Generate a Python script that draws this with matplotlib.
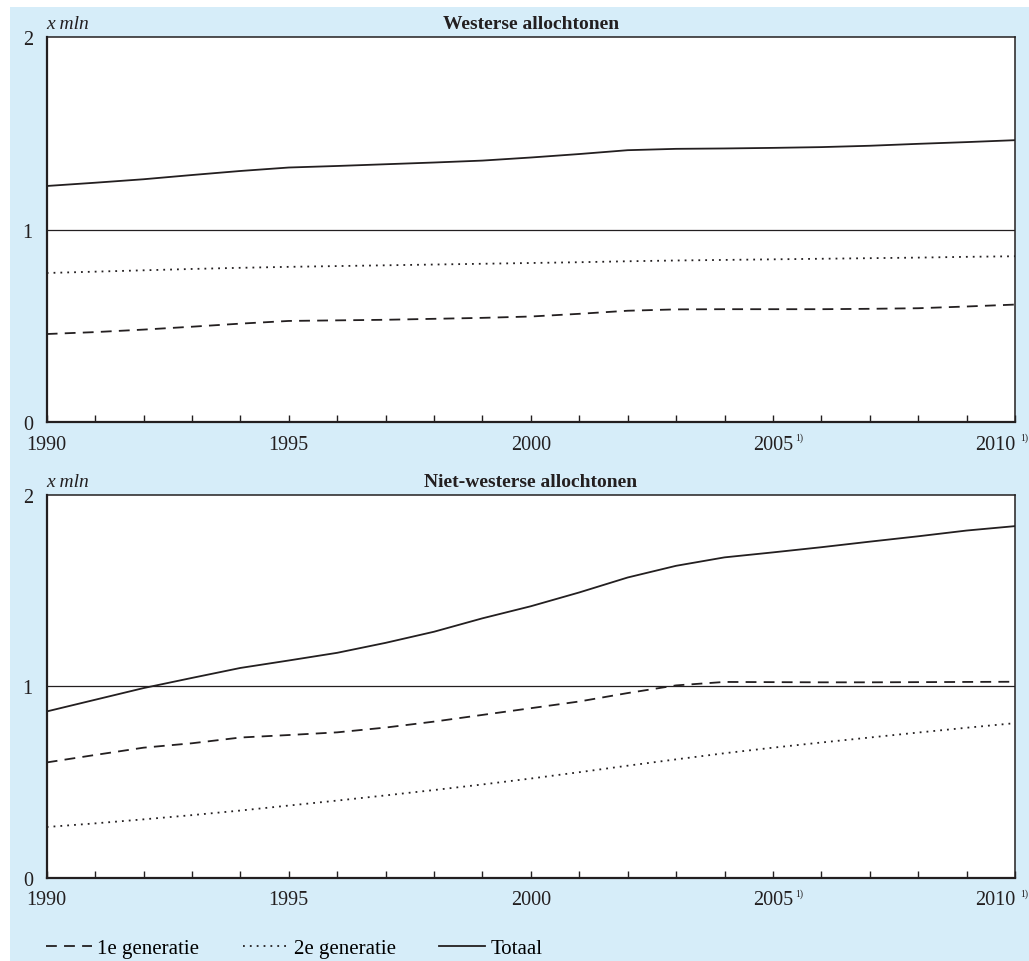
import matplotlib.pyplot as plt
from matplotlib.lines import Line2D
from matplotlib.patches import Rectangle

plt.rcParams['font.family'] = ['Liberation Serif', 'DejaVu Serif']

years = list(range(1990, 2011))
tick_labels = {1990: '1990', 1995: '1995', 2000: '2000', 2005: '2005', 2010: '2010'}
footnote_years = [2005, 2010]

# Westerse allochtonen (x mln)
west_1e = [0.457, 0.467, 0.480, 0.495, 0.511, 0.525, 0.528, 0.531, 0.536, 0.541, 0.548,
           0.562, 0.578, 0.585, 0.586, 0.586, 0.586, 0.588, 0.591, 0.600, 0.610]
west_2e = [0.774, 0.781, 0.788, 0.795, 0.801, 0.806, 0.810, 0.814, 0.818, 0.822, 0.826,
           0.830, 0.835, 0.839, 0.842, 0.845, 0.848, 0.851, 0.854, 0.858, 0.861]
west_tot = [1.226, 1.243, 1.261, 1.283, 1.304, 1.322, 1.330, 1.339, 1.348, 1.358, 1.374,
            1.392, 1.412, 1.419, 1.421, 1.424, 1.428, 1.435, 1.445, 1.454, 1.464]

# Niet-westerse allochtonen (x mln)
nw_1e = [0.603, 0.642, 0.680, 0.703, 0.733, 0.746, 0.760, 0.785, 0.816, 0.851, 0.886,
         0.921, 0.965, 1.005, 1.023, 1.022, 1.021, 1.021, 1.022, 1.023, 1.024]
nw_2e = [0.266, 0.285, 0.306, 0.328, 0.352, 0.378, 0.404, 0.431, 0.459, 0.488, 0.519,
         0.552, 0.586, 0.619, 0.651, 0.680, 0.707, 0.733, 0.759, 0.784, 0.808]
nw_tot = [0.869, 0.930, 0.991, 1.044, 1.096, 1.135, 1.175, 1.227, 1.285, 1.355, 1.418,
          1.490, 1.568, 1.629, 1.673, 1.699, 1.726, 1.755, 1.783, 1.813, 1.836]

titles = ['Westerse allochtonen', 'Niet-westerse allochtonen']
series_labels = ['1e generatie', '2e generatie', 'Totaal']

bg = '#d6edf9'
ink = '#231f20'
W, H = 1029, 962

fig = plt.figure(figsize=(W / 100, H / 100), dpi=100)
fig.patches.append(Rectangle((10 / W, 0), 1 - 10 / W, 1 - 8 / H, transform=fig.transFigure,
                             facecolor=bg, edgecolor='none', zorder=-5))

left, right = 46.7 / W, 1015 / W
ax_top = fig.add_axes([left, 1 - 423 / H, right - left, 385 / H])
ax_bot = fig.add_axes([left, 1 - 879 / H, right - left, 383.3 / H])

styles = [dict(ls=(0, (6, 4))), dict(ls=(0, (1, 2.8))), dict(ls='-')]

for ax, data, title in [(ax_top, [west_1e, west_2e, west_tot], titles[0]),
                        (ax_bot, [nw_1e, nw_2e, nw_tot], titles[1])]:
    ax.set_facecolor('white')
    ax.axhline(1, color=ink, lw=0.9, zorder=1)
    for vals, st in zip(data, styles):
        ax.plot(years, vals, color=ink, lw=1.3, zorder=2, **st)
    ax.set_xlim(1990, 2010)
    ax.set_ylim(0, 2)
    ax.set_yticks([0, 1, 2])
    ax.set_yticklabels(['0', '1', '2'])
    ax.set_xticks(years)
    ax.set_xticklabels([tick_labels.get(y, '') for y in years])
    ax.tick_params(axis='y', length=0, pad=10, labelsize=14.5, labelcolor=ink)
    ax.tick_params(axis='x', direction='in', length=5, width=1, color=ink,
                   pad=9, labelsize=14.5, labelcolor=ink)
    ax.get_xticklabels()[-1].set_horizontalalignment('right')
    for side in ['left', 'bottom']:
        ax.spines[side].set_linewidth(1.6)
    for side in ['top', 'right']:
        ax.spines[side].set_linewidth(1.1)
    for sp in ax.spines.values():
        sp.set_color(ink)
    ax.text(0, 1.012, 'x mln', transform=ax.transAxes, fontsize=14, style='italic',
            ha='left', va='bottom', color=ink)
    ax.text(0.5, 1.012, title, transform=ax.transAxes, fontsize=14, fontweight='bold',
            ha='center', va='bottom', color=ink)
    for fy, dx in zip(footnote_years, [22, 5]):
        ax.annotate('1)', xy=(fy, 0), xycoords=('data', 'axes fraction'),
                    xytext=(dx, -15), textcoords='offset pixels',
                    fontsize=7, ha='left', va='center', color=ink)

handles = [Line2D([], [], color=ink, lw=1.3, **st) for st in styles]
fig.legend(handles, series_labels, loc='center left', bbox_to_anchor=(27 / W, 1 - 949 / H),
           ncol=3, frameon=False, fontsize=15, handlelength=2.2, handletextpad=0.25,
           columnspacing=2.1)

fig.savefig('out.png', dpi=100, facecolor='white')
